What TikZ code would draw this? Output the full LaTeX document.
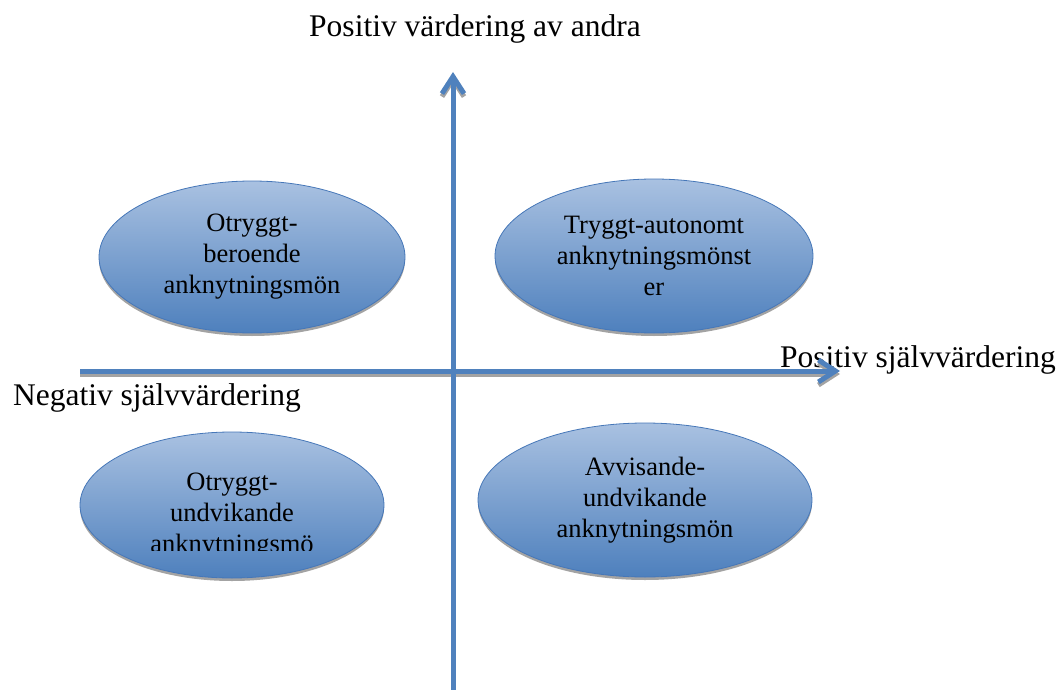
\documentclass[tikz,border=0pt]{standalone}
\usepackage{fontspec}
\setmainfont{Liberation Serif}
\usetikzlibrary{arrows.meta,shadows,shapes.geometric}
\definecolor{axisblue}{HTML}{4F81BD}
\definecolor{elltop}{HTML}{A9C1E1}
\definecolor{ellbot}{HTML}{4E80BD}
\definecolor{ellline}{HTML}{4677B8}
\definecolor{shadowgray}{HTML}{A3A3A3}

\begin{document}
\begin{tikzpicture}[x=1pt,y=-1pt,
  axis/.style={line width=5pt,draw=axisblue,-{Straight Barb[length=17pt,width=22pt]}},
  axisshadow/.style={axis,draw=shadowgray},
  pattern/.style={ellipse,draw=ellline,line width=0.8pt,top color=elltop,bottom color=ellbot,
    drop shadow={shadow xshift=0pt,shadow yshift=-3pt,fill=shadowgray,opacity=1}},
  ptext/.style={align=center,font=\fontsize{26.5}{31}\selectfont},
  axislabel/.style={anchor=base,inner sep=0pt,font=\fontsize{31.5}{36}\selectfont}]
  \useasboundingbox (0,0) rectangle (1063,690);
  % labels first, the arrows lie over them
  \node[axislabel] (andra) at (475,37) {Positiv värdering av andra};
  \node[axislabel] (posself) at (918,367) {Positiv självvärdering};
  \node[axislabel] (negself) at (157,405) {Negativ självvärdering};
  % axes
  \coordinate (xleft) at (80,371);
  \coordinate (xright) at (840,371);
  \coordinate (ybot) at (453,692);
  \coordinate (ytop) at (453,72);
  \draw[axisshadow] ([yshift=-3pt]xleft) -- ([yshift=-3pt]xright);
  \draw[axis] (xleft) -- (xright);
  \draw[axisshadow] ([yshift=-3pt]ybot) -- ([yshift=-3pt]ytop);
  \draw[axis] (ybot) -- (ytop);
  % the four patterns
  \node[pattern,ptext,minimum width=306pt,minimum height=152pt] (beroende) at (252,257) {Otryggt-\\beroende\\anknytningsmön};
  \node[pattern,ptext,minimum width=318pt,minimum height=154pt] (autonomt) at (654,256) {Tryggt-autonomt\\anknytningsmönst\\er};
  \node[pattern,ptext,minimum width=334pt,minimum height=154pt] (avvisande) at (645,500) {Avvisande-\\undvikande\\anknytningsmön};
  \node[pattern,minimum width=304pt,minimum height=146pt] (undvikande) at (232,505) {};
  \begin{scope}
    \clip (60,420) rectangle (400,550);
    \node[ptext] (undvtext) at (232,516) {Otryggt-\\undvikande\\anknytningsmö};
  \end{scope}
\end{tikzpicture}
\end{document}
